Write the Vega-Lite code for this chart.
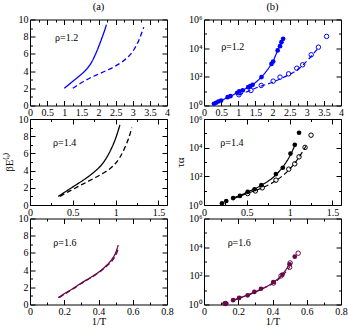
{
"$schema":"https://vega.github.io/schema/vega-lite/v6.json",
"background":"white",
"padding":{"left":2,"top":1.5,"right":2,"bottom":0},
"config":{"font":"Liberation Serif","view":{"stroke":"#000000","strokeWidth":1},
"axis":{"domain":false,"grid":false,"labelFont":"Liberation Serif","labelFontSize":10,"labelColor":"#000000","tickColor":"#000000","tickWidth":1,"titleFont":"Liberation Serif","titleFontSize":11,"titleFontWeight":"normal","titleColor":"#000000","labelFlush":false,"labelOverlap":false},
"title":{"font":"Liberation Serif","fontSize":10.5,"fontWeight":"normal","color":"#000000","offset":2},
"text":{"font":"Liberation Serif"}},
"datasets":{
"a1":[{"x":1.0,"y":2.0,"k":"s"},{"x":1.2,"y":2.65,"k":"s"},{"x":1.4,"y":3.3,"k":"s"},{"x":1.6,"y":4.0,"k":"s"},{"x":1.7,"y":4.45,"k":"s"},{"x":1.8,"y":5.05,"k":"s"},{"x":1.9,"y":5.85,"k":"s"},{"x":2.0,"y":6.8,"k":"s"},{"x":2.1,"y":7.85,"k":"s"},{"x":2.2,"y":9.0,"k":"s"},{"x":2.23,"y":9.4,"k":"s"},
{"x":1.25,"y":2.0,"k":"d"},{"x":1.5,"y":2.65,"k":"d"},{"x":1.75,"y":3.2,"k":"d"},{"x":2.0,"y":3.65,"k":"d"},{"x":2.25,"y":4.1,"k":"d"},{"x":2.5,"y":4.6,"k":"d"},{"x":2.7,"y":5.1,"k":"d"},{"x":2.9,"y":5.8,"k":"d"},{"x":3.05,"y":6.6,"k":"d"},{"x":3.2,"y":7.8,"k":"d"},{"x":3.32,"y":9.1,"k":"d"}],
"b1":[{"x":0.3,"y":1.413,"k":"s"},{"x":0.5,"y":2.239,"k":"s"},{"x":0.75,"y":4.169,"k":"s"},{"x":1.0,"y":8.511,"k":"s"},{"x":1.25,"y":16.6,"k":"s"},{"x":1.5,"y":39.81,"k":"s"},{"x":1.6,"y":63.1,"k":"s"},{"x":1.7,"y":112.2,"k":"s"},{"x":1.8,"y":213.8,"k":"s"},{"x":1.9,"y":446.7,"k":"s"},{"x":2.0,"y":1000,"k":"s"},{"x":2.1,"y":3548,"k":"s"},{"x":2.2,"y":12590,"k":"s"},{"x":2.3,"y":41690,"k":"s"},
{"x":1.0,"y":5.248,"k":"d"},{"x":1.3,"y":10,"k":"d"},{"x":1.6,"y":19.95,"k":"d"},{"x":2.0,"y":41.69,"k":"d"},{"x":2.4,"y":112.2,"k":"d"},{"x":2.7,"y":281.8,"k":"d"},{"x":2.9,"y":707.9,"k":"d"},{"x":3.1,"y":2239,"k":"d"},{"x":3.35,"y":11220,"k":"d"}],
"b1f":[{"x":0.29,"y":1.32},{"x":0.35,"y":1.55},{"x":0.42,"y":1.9},{"x":0.5,"y":2.24},{"x":0.69,"y":3.8},{"x":0.77,"y":4.47},{"x":0.97,"y":7.76},{"x":1.03,"y":9.55},{"x":1.13,"y":11.2},{"x":1.29,"y":19.05},{"x":1.35,"y":22.4},{"x":1.42,"y":27.5},{"x":1.68,"y":95.5},{"x":1.97,"y":794},{"x":2.02,"y":1175},{"x":2.15,"y":6918},{"x":2.22,"y":13800},{"x":2.26,"y":26300},{"x":2.31,"y":44670}],
"b1o":[{"x":1.02,"y":5.62},{"x":1.37,"y":11.2},{"x":1.67,"y":25.1},{"x":2.02,"y":50.1},{"x":2.22,"y":95.5},{"x":2.47,"y":162},{"x":2.71,"y":398},{"x":2.88,"y":692},{"x":3.13,"y":3467},{"x":3.34,"y":11750},{"x":3.58,"y":66070}],
"a2":[{"x":0.33,"y":1.0,"k":"s"},{"x":0.45,"y":1.78,"k":"s"},{"x":0.55,"y":2.42,"k":"s"},{"x":0.65,"y":3.08,"k":"s"},{"x":0.72,"y":3.6,"k":"s"},{"x":0.78,"y":4.1,"k":"s"},{"x":0.84,"y":4.72,"k":"s"},{"x":0.9,"y":5.6,"k":"s"},{"x":0.95,"y":6.55,"k":"s"},{"x":1.0,"y":7.75,"k":"s"},{"x":1.05,"y":9.3,"k":"s"},
{"x":0.35,"y":1.0,"k":"d"},{"x":0.45,"y":1.55,"k":"d"},{"x":0.55,"y":2.08,"k":"d"},{"x":0.65,"y":2.6,"k":"d"},{"x":0.75,"y":3.12,"k":"d"},{"x":0.85,"y":3.68,"k":"d"},{"x":0.95,"y":4.35,"k":"d"},{"x":1.0,"y":4.85,"k":"d"},{"x":1.05,"y":5.55,"k":"d"},{"x":1.1,"y":6.5,"k":"d"},{"x":1.15,"y":7.7,"k":"d"},{"x":1.19,"y":9.0,"k":"d"}],
"b2":[{"x":0.33,"y":2.818,"k":"s"},{"x":0.5,"y":7.586,"k":"s"},{"x":0.67,"y":23.99,"k":"s"},{"x":0.84,"y":125.9,"k":"s"},{"x":0.95,"y":794.3,"k":"s"},{"x":1.01,"y":3162,"k":"s"},{"x":1.06,"y":14130,"k":"s"},
{"x":0.35,"y":2.818,"k":"d"},{"x":0.5,"y":6.31,"k":"d"},{"x":0.68,"y":15.85,"k":"d"},{"x":0.84,"y":50.12,"k":"d"},{"x":1.0,"y":316.2,"k":"d"},{"x":1.1,"y":1778,"k":"d"},{"x":1.19,"y":12590,"k":"d"}],
"b2f":[{"x":0.21,"y":1.318},{"x":0.26,"y":1.905},{"x":0.34,"y":3.02},{"x":0.42,"y":4.266},{"x":0.51,"y":8.318},{"x":0.59,"y":12.59},{"x":0.67,"y":23.99},{"x":0.84,"y":144.5},{"x":0.92,"y":398.1},{"x":1.01,"y":3890},{"x":1.06,"y":15850},{"x":1.11,"y":109600}],
"b2o":[{"x":0.51,"y":6.31},{"x":0.6,"y":9.55},{"x":0.68,"y":15.85},{"x":0.84,"y":53.7},{"x":0.99,"y":316.2},{"x":1.06,"y":741.3},{"x":1.11,"y":2291},{"x":1.18,"y":10470},{"x":1.25,"y":74130}],
"a3":[{"x":0.165,"y":0.8,"k":"s"},{"x":0.2,"y":1.25,"k":"s"},{"x":0.25,"y":1.85,"k":"s"},{"x":0.3,"y":2.5,"k":"s"},{"x":0.35,"y":3.1,"k":"s"},{"x":0.4,"y":3.75,"k":"s"},{"x":0.45,"y":4.6,"k":"s"},{"x":0.48,"y":5.3,"k":"s"},{"x":0.5,"y":6.0,"k":"s"},{"x":0.515,"y":6.9,"k":"s"},
{"x":0.17,"y":0.8,"k":"d"},{"x":0.25,"y":1.8,"k":"d"},{"x":0.3,"y":2.45,"k":"d"},{"x":0.35,"y":3.05,"k":"d"},{"x":0.4,"y":3.7,"k":"d"},{"x":0.45,"y":4.5,"k":"d"},{"x":0.48,"y":5.1,"k":"d"},{"x":0.5,"y":5.7,"k":"d"},{"x":0.515,"y":6.4,"k":"d"}],
"b3":[{"x":0.17,"y":1.995,"k":"s"},{"x":0.25,"y":4.467,"k":"s"},{"x":0.33,"y":11.22,"k":"s"},{"x":0.4,"y":31.62,"k":"s"},{"x":0.45,"y":100,"k":"s"},{"x":0.5,"y":631,"k":"s"},
{"x":0.17,"y":1.995,"k":"d"},{"x":0.25,"y":4.266,"k":"d"},{"x":0.33,"y":10.72,"k":"d"},{"x":0.4,"y":28.18,"k":"d"},{"x":0.45,"y":79.43,"k":"d"},{"x":0.5,"y":398.1,"k":"d"}],
"b3f":[{"x":0.12,"y":1.175},{"x":0.13,"y":1.175},{"x":0.17,"y":1.995},{"x":0.205,"y":2.884},{"x":0.255,"y":4.365},{"x":0.294,"y":7.586},{"x":0.333,"y":12.59},{"x":0.405,"y":37.15},{"x":0.458,"y":120.2},{"x":0.5,"y":631},{"x":0.53,"y":2188}],
"b3o":[{"x":0.125,"y":1.175},{"x":0.406,"y":31.62},{"x":0.45,"y":100},{"x":0.5,"y":398.1},{"x":0.503,"y":794.3},{"x":0.55,"y":3802}]
},
"columns":2,
"spacing":{"row":13.5,"column":37},
"bounds":"flush",
"concat":[
{"width":137,"height":86,"title":{"text":"(a)"},"resolve":{"axis":{"x":"independent","y":"independent"}},
"layer":[
{"data":{"name":"a1"},"mark":{"type":"line","interpolate":"monotone","color":"#0000ff","strokeWidth":1.3},
"encoding":{"x":{"field":"x","type":"quantitative","scale":{"domain":[0,4]},"axis":{"orient":"bottom","values":[0,0.5,1,1.5,2,2.5,3,3.5,4],"format":"~g","offset":-5,"tickSize":5,"labelPadding":2,"title":null}},
"y":{"field":"y","type":"quantitative","scale":{"domain":[0,10]},"axis":{"orient":"left","values":[0,2,4,6,8,10],"offset":-5,"tickSize":5,"labelPadding":2,"title":null}},
"strokeDash":{"field":"k","type":"nominal","scale":{"domain":["s","d"],"range":[[1,0],[5,3]]},"legend":null}}},
{"data":{"name":"a1"},"mark":{"type":"point","opacity":0},"encoding":{"x":{"field":"x","type":"quantitative","axis":{"orient":"top","values":[0,0.5,1,1.5,2,2.5,3,3.5,4],"labels":false,"offset":-5,"tickSize":5,"title":null}},"y":{"field":"y","type":"quantitative","axis":{"orient":"right","values":[0,2,4,6,8,10],"labels":false,"offset":-5,"tickSize":5,"title":null}}}},
{"data":{"name":"a1"},"mark":{"type":"point","opacity":0},"encoding":{"x":{"field":"x","type":"quantitative","axis":{"orient":"bottom","values":[0.25,0.75,1.25,1.75,2.25,2.75,3.25,3.75],"labels":false,"offset":-2.5,"tickSize":2.5,"title":null}},"y":{"field":"y","type":"quantitative","axis":{"orient":"left","values":[1,3,5,7,9],"labels":false,"offset":-2.5,"tickSize":2.5,"title":null}}}},
{"data":{"name":"a1"},"mark":{"type":"point","opacity":0},"encoding":{"x":{"field":"x","type":"quantitative","axis":{"orient":"top","values":[0.25,0.75,1.25,1.75,2.25,2.75,3.25,3.75],"labels":false,"offset":-2.5,"tickSize":2.5,"title":null}},"y":{"field":"y","type":"quantitative","axis":{"orient":"right","values":[1,3,5,7,9],"labels":false,"offset":-2.5,"tickSize":2.5,"title":null}}}},
{"data":{"values":[{"label":"ρ=1.2"}]},"mark":{"type":"text","align":"left","baseline":"middle","fontSize":10},"encoding":{"x":{"datum":0.73,"type":"quantitative","axis":null},"y":{"datum":7.8,"type":"quantitative","axis":null},"text":{"field":"label"}}}
]},
{"width":137,"height":86,"title":{"text":"(b)"},"resolve":{"axis":{"x":"independent","y":"independent"}},
"layer":[
{"data":{"name":"b1"},"mark":{"type":"line","interpolate":"monotone","color":"#0000ff","strokeWidth":1.2},
"encoding":{"x":{"field":"x","type":"quantitative","scale":{"domain":[0,4]},"axis":{"orient":"bottom","values":[0,0.5,1,1.5,2,2.5,3,3.5,4],"format":"~g","offset":-5,"tickSize":5,"labelPadding":2,"title":null}},
"y":{"field":"y","type":"quantitative","scale":{"type":"log","domain":[1,1000000]},"axis":{"orient":"left","values":[1,100,10000,1000000],"labelExpr":"datum.value < 10 ? '10⁰' : datum.value < 1000 ? '10²' : datum.value < 100000 ? '10⁴' : '10⁶'","offset":-5,"tickSize":5,"labelPadding":2,"title":null}},
"strokeDash":{"field":"k","type":"nominal","scale":{"domain":["s","d"],"range":[[1,0],[4,3]]},"legend":null}}},
{"data":{"name":"b1f"},"mark":{"type":"point","shape":"circle","filled":true,"color":"#0000ff","size":22,"opacity":1},"encoding":{"x":{"field":"x","type":"quantitative","axis":null},"y":{"field":"y","type":"quantitative","scale":{"type":"log"},"axis":null}}},
{"data":{"name":"b1o"},"mark":{"type":"point","shape":"circle","filled":false,"color":"#0000ff","size":20,"strokeWidth":1,"opacity":1},"encoding":{"x":{"field":"x","type":"quantitative","axis":null},"y":{"field":"y","type":"quantitative","scale":{"type":"log"},"axis":null}}},
{"data":{"name":"b1"},"mark":{"type":"point","opacity":0},"encoding":{"x":{"field":"x","type":"quantitative","axis":{"orient":"top","values":[0,0.5,1,1.5,2,2.5,3,3.5,4],"labels":false,"offset":-5,"tickSize":5,"title":null}},"y":{"field":"y","type":"quantitative","scale":{"type":"log"},"axis":{"orient":"right","values":[1,100,10000,1000000],"labels":false,"offset":-5,"tickSize":5,"title":null}}}},
{"data":{"name":"b1"},"mark":{"type":"point","opacity":0},"encoding":{"x":{"field":"x","type":"quantitative","axis":{"orient":"bottom","values":[0.25,0.75,1.25,1.75,2.25,2.75,3.25,3.75],"labels":false,"offset":-2.5,"tickSize":2.5,"title":null}},"y":{"field":"y","type":"quantitative","scale":{"type":"log"},"axis":{"orient":"left","values":[10,1000,100000],"labels":false,"offset":-2.5,"tickSize":2.5,"title":null}}}},
{"data":{"name":"b1"},"mark":{"type":"point","opacity":0},"encoding":{"x":{"field":"x","type":"quantitative","axis":{"orient":"top","values":[0.25,0.75,1.25,1.75,2.25,2.75,3.25,3.75],"labels":false,"offset":-2.5,"tickSize":2.5,"title":null}},"y":{"field":"y","type":"quantitative","scale":{"type":"log"},"axis":{"orient":"right","values":[10,1000,100000],"labels":false,"offset":-2.5,"tickSize":2.5,"title":null}}}},
{"data":{"values":[{"label":"ρ=1.2"}]},"mark":{"type":"text","align":"left","baseline":"middle","fontSize":10},"encoding":{"x":{"datum":0.5,"type":"quantitative","axis":null},"y":{"datum":11750,"type":"quantitative","scale":{"type":"log"},"axis":null},"text":{"field":"label"}}}
]},
{"width":137,"height":86,"resolve":{"axis":{"x":"independent","y":"independent"}},
"layer":[
{"data":{"name":"a2"},"mark":{"type":"line","interpolate":"monotone","color":"#000000","strokeWidth":1.3},
"encoding":{"x":{"field":"x","type":"quantitative","scale":{"domain":[0,1.5]},"axis":{"orient":"bottom","values":[0,0.5,1,1.5],"format":"~g","offset":-5,"tickSize":5,"labelPadding":2,"title":null}},
"y":{"field":"y","type":"quantitative","scale":{"domain":[0,10]},"axis":{"orient":"left","values":[0,2,4,6,8,10],"offset":-5,"tickSize":5,"labelPadding":2,"title":"βE⁽ˢ⁾","titlePadding":4}},
"strokeDash":{"field":"k","type":"nominal","scale":{"domain":["s","d"],"range":[[1,0],[4,2]]},"legend":null}}},
{"data":{"name":"a2"},"mark":{"type":"point","opacity":0},"encoding":{"x":{"field":"x","type":"quantitative","axis":{"orient":"top","values":[0,0.5,1,1.5],"labels":false,"offset":-5,"tickSize":5,"title":null}},"y":{"field":"y","type":"quantitative","axis":{"orient":"right","values":[0,2,4,6,8,10],"labels":false,"offset":-5,"tickSize":5,"title":null}}}},
{"data":{"name":"a2"},"mark":{"type":"point","opacity":0},"encoding":{"x":{"field":"x","type":"quantitative","axis":{"orient":"bottom","values":[0.25,0.75,1.25],"labels":false,"offset":-2.5,"tickSize":2.5,"title":null}},"y":{"field":"y","type":"quantitative","axis":{"orient":"left","values":[1,3,5,7,9],"labels":false,"offset":-2.5,"tickSize":2.5,"title":null}}}},
{"data":{"name":"a2"},"mark":{"type":"point","opacity":0},"encoding":{"x":{"field":"x","type":"quantitative","axis":{"orient":"top","values":[0.25,0.75,1.25],"labels":false,"offset":-2.5,"tickSize":2.5,"title":null}},"y":{"field":"y","type":"quantitative","axis":{"orient":"right","values":[1,3,5,7,9],"labels":false,"offset":-2.5,"tickSize":2.5,"title":null}}}},
{"data":{"values":[{"label":"ρ=1.4"}]},"mark":{"type":"text","align":"left","baseline":"middle","fontSize":10},"encoding":{"x":{"datum":0.27,"type":"quantitative","axis":null},"y":{"datum":7.2,"type":"quantitative","axis":null},"text":{"field":"label"}}}
]},
{"width":137,"height":86,"resolve":{"axis":{"x":"independent","y":"independent"}},
"layer":[
{"data":{"name":"b2"},"mark":{"type":"line","interpolate":"monotone","color":"#000000","strokeWidth":1.2},
"encoding":{"x":{"field":"x","type":"quantitative","scale":{"domain":[0,1.5]},"axis":{"orient":"bottom","values":[0,0.5,1,1.5],"format":"~g","offset":-5,"tickSize":5,"labelPadding":2,"title":null}},
"y":{"field":"y","type":"quantitative","scale":{"type":"log","domain":[1,1000000]},"axis":{"orient":"left","values":[1,100,10000,1000000],"labelExpr":"datum.value < 10 ? '10⁰' : datum.value < 1000 ? '10²' : datum.value < 100000 ? '10⁴' : '10⁶'","offset":-5,"tickSize":5,"labelPadding":2,"title":"τα","titlePadding":3}},
"strokeDash":{"field":"k","type":"nominal","scale":{"domain":["s","d"],"range":[[1,0],[4,3]]},"legend":null}}},
{"data":{"name":"b2f"},"mark":{"type":"point","shape":"circle","filled":true,"color":"#000000","size":22,"opacity":1},"encoding":{"x":{"field":"x","type":"quantitative","axis":null},"y":{"field":"y","type":"quantitative","scale":{"type":"log"},"axis":null}}},
{"data":{"name":"b2o"},"mark":{"type":"point","shape":"circle","filled":false,"color":"#000000","size":20,"strokeWidth":1,"opacity":1},"encoding":{"x":{"field":"x","type":"quantitative","axis":null},"y":{"field":"y","type":"quantitative","scale":{"type":"log"},"axis":null}}},
{"data":{"name":"b2"},"mark":{"type":"point","opacity":0},"encoding":{"x":{"field":"x","type":"quantitative","axis":{"orient":"top","values":[0,0.5,1,1.5],"labels":false,"offset":-5,"tickSize":5,"title":null}},"y":{"field":"y","type":"quantitative","scale":{"type":"log"},"axis":{"orient":"right","values":[1,100,10000,1000000],"labels":false,"offset":-5,"tickSize":5,"title":null}}}},
{"data":{"name":"b2"},"mark":{"type":"point","opacity":0},"encoding":{"x":{"field":"x","type":"quantitative","axis":{"orient":"bottom","values":[0.25,0.75,1.25],"labels":false,"offset":-2.5,"tickSize":2.5,"title":null}},"y":{"field":"y","type":"quantitative","scale":{"type":"log"},"axis":{"orient":"left","values":[10,1000,100000],"labels":false,"offset":-2.5,"tickSize":2.5,"title":null}}}},
{"data":{"name":"b2"},"mark":{"type":"point","opacity":0},"encoding":{"x":{"field":"x","type":"quantitative","axis":{"orient":"top","values":[0.25,0.75,1.25],"labels":false,"offset":-2.5,"tickSize":2.5,"title":null}},"y":{"field":"y","type":"quantitative","scale":{"type":"log"},"axis":{"orient":"right","values":[10,1000,100000],"labels":false,"offset":-2.5,"tickSize":2.5,"title":null}}}},
{"data":{"values":[{"label":"ρ=1.4"}]},"mark":{"type":"text","align":"left","baseline":"middle","fontSize":10},"encoding":{"x":{"datum":0.19,"type":"quantitative","axis":null},"y":{"datum":20000,"type":"quantitative","scale":{"type":"log"},"axis":null},"text":{"field":"label"}}}
]},
{"width":137,"height":86,"resolve":{"axis":{"x":"independent","y":"independent"}},
"layer":[
{"data":{"name":"a3"},"mark":{"type":"line","interpolate":"monotone","color":"#670748","strokeWidth":1.3},
"encoding":{"x":{"field":"x","type":"quantitative","scale":{"domain":[0,0.8]},"axis":{"orient":"bottom","values":[0,0.2,0.4,0.6,0.8],"format":"~g","offset":-5,"tickSize":5,"labelPadding":2,"title":"1/T","titlePadding":0,"titleFontSize":10.5}},
"y":{"field":"y","type":"quantitative","scale":{"domain":[0,10]},"axis":{"orient":"left","values":[0,2,4,6,8,10],"offset":-5,"tickSize":5,"labelPadding":2,"title":null}},
"strokeDash":{"field":"k","type":"nominal","scale":{"domain":["s","d"],"range":[[1,0],[4,2]]},"legend":null}}},
{"data":{"name":"a3"},"mark":{"type":"point","opacity":0},"encoding":{"x":{"field":"x","type":"quantitative","axis":{"orient":"top","values":[0,0.2,0.4,0.6,0.8],"labels":false,"offset":-5,"tickSize":5,"title":null}},"y":{"field":"y","type":"quantitative","axis":{"orient":"right","values":[0,2,4,6,8,10],"labels":false,"offset":-5,"tickSize":5,"title":null}}}},
{"data":{"name":"a3"},"mark":{"type":"point","opacity":0},"encoding":{"x":{"field":"x","type":"quantitative","axis":{"orient":"bottom","values":[0.1,0.3,0.5,0.7],"labels":false,"offset":-2.5,"tickSize":2.5,"title":null}},"y":{"field":"y","type":"quantitative","axis":{"orient":"left","values":[1,3,5,7,9],"labels":false,"offset":-2.5,"tickSize":2.5,"title":null}}}},
{"data":{"name":"a3"},"mark":{"type":"point","opacity":0},"encoding":{"x":{"field":"x","type":"quantitative","axis":{"orient":"top","values":[0.1,0.3,0.5,0.7],"labels":false,"offset":-2.5,"tickSize":2.5,"title":null}},"y":{"field":"y","type":"quantitative","axis":{"orient":"right","values":[1,3,5,7,9],"labels":false,"offset":-2.5,"tickSize":2.5,"title":null}}}},
{"data":{"values":[{"label":"ρ=1.6"}]},"mark":{"type":"text","align":"left","baseline":"middle","fontSize":10},"encoding":{"x":{"datum":0.136,"type":"quantitative","axis":null},"y":{"datum":7.2,"type":"quantitative","axis":null},"text":{"field":"label"}}}
]},
{"width":137,"height":86,"resolve":{"axis":{"x":"independent","y":"independent"}},
"layer":[
{"data":{"name":"b3"},"mark":{"type":"line","interpolate":"monotone","color":"#670748","strokeWidth":1.2},
"encoding":{"x":{"field":"x","type":"quantitative","scale":{"domain":[0,0.8]},"axis":{"orient":"bottom","values":[0,0.2,0.4,0.6,0.8],"format":"~g","offset":-5,"tickSize":5,"labelPadding":2,"title":"1/T","titlePadding":0,"titleFontSize":10.5}},
"y":{"field":"y","type":"quantitative","scale":{"type":"log","domain":[1,1000000]},"axis":{"orient":"left","values":[1,100,10000,1000000],"labelExpr":"datum.value < 10 ? '10⁰' : datum.value < 1000 ? '10²' : datum.value < 100000 ? '10⁴' : '10⁶'","offset":-5,"tickSize":5,"labelPadding":2,"title":null}},
"strokeDash":{"field":"k","type":"nominal","scale":{"domain":["s","d"],"range":[[1,0],[4,3]]},"legend":null}}},
{"data":{"name":"b3f"},"mark":{"type":"point","shape":"circle","filled":true,"color":"#670748","size":22,"opacity":1},"encoding":{"x":{"field":"x","type":"quantitative","axis":null},"y":{"field":"y","type":"quantitative","scale":{"type":"log"},"axis":null}}},
{"data":{"name":"b3o"},"mark":{"type":"point","shape":"circle","filled":false,"color":"#670748","size":20,"strokeWidth":1,"opacity":1},"encoding":{"x":{"field":"x","type":"quantitative","axis":null},"y":{"field":"y","type":"quantitative","scale":{"type":"log"},"axis":null}}},
{"data":{"name":"b3"},"mark":{"type":"point","opacity":0},"encoding":{"x":{"field":"x","type":"quantitative","axis":{"orient":"top","values":[0,0.2,0.4,0.6,0.8],"labels":false,"offset":-5,"tickSize":5,"title":null}},"y":{"field":"y","type":"quantitative","scale":{"type":"log"},"axis":{"orient":"right","values":[1,100,10000,1000000],"labels":false,"offset":-5,"tickSize":5,"title":null}}}},
{"data":{"name":"b3"},"mark":{"type":"point","opacity":0},"encoding":{"x":{"field":"x","type":"quantitative","axis":{"orient":"bottom","values":[0.1,0.3,0.5,0.7],"labels":false,"offset":-2.5,"tickSize":2.5,"title":null}},"y":{"field":"y","type":"quantitative","scale":{"type":"log"},"axis":{"orient":"left","values":[10,1000,100000],"labels":false,"offset":-2.5,"tickSize":2.5,"title":null}}}},
{"data":{"name":"b3"},"mark":{"type":"point","opacity":0},"encoding":{"x":{"field":"x","type":"quantitative","axis":{"orient":"top","values":[0.1,0.3,0.5,0.7],"labels":false,"offset":-2.5,"tickSize":2.5,"title":null}},"y":{"field":"y","type":"quantitative","scale":{"type":"log"},"axis":{"orient":"right","values":[10,1000,100000],"labels":false,"offset":-2.5,"tickSize":2.5,"title":null}}}},
{"data":{"values":[{"label":"ρ=1.6"}]},"mark":{"type":"text","align":"left","baseline":"middle","fontSize":10},"encoding":{"x":{"datum":0.138,"type":"quantitative","axis":null},"y":{"datum":18600,"type":"quantitative","scale":{"type":"log"},"axis":null},"text":{"field":"label"}}}
]}
]
}
